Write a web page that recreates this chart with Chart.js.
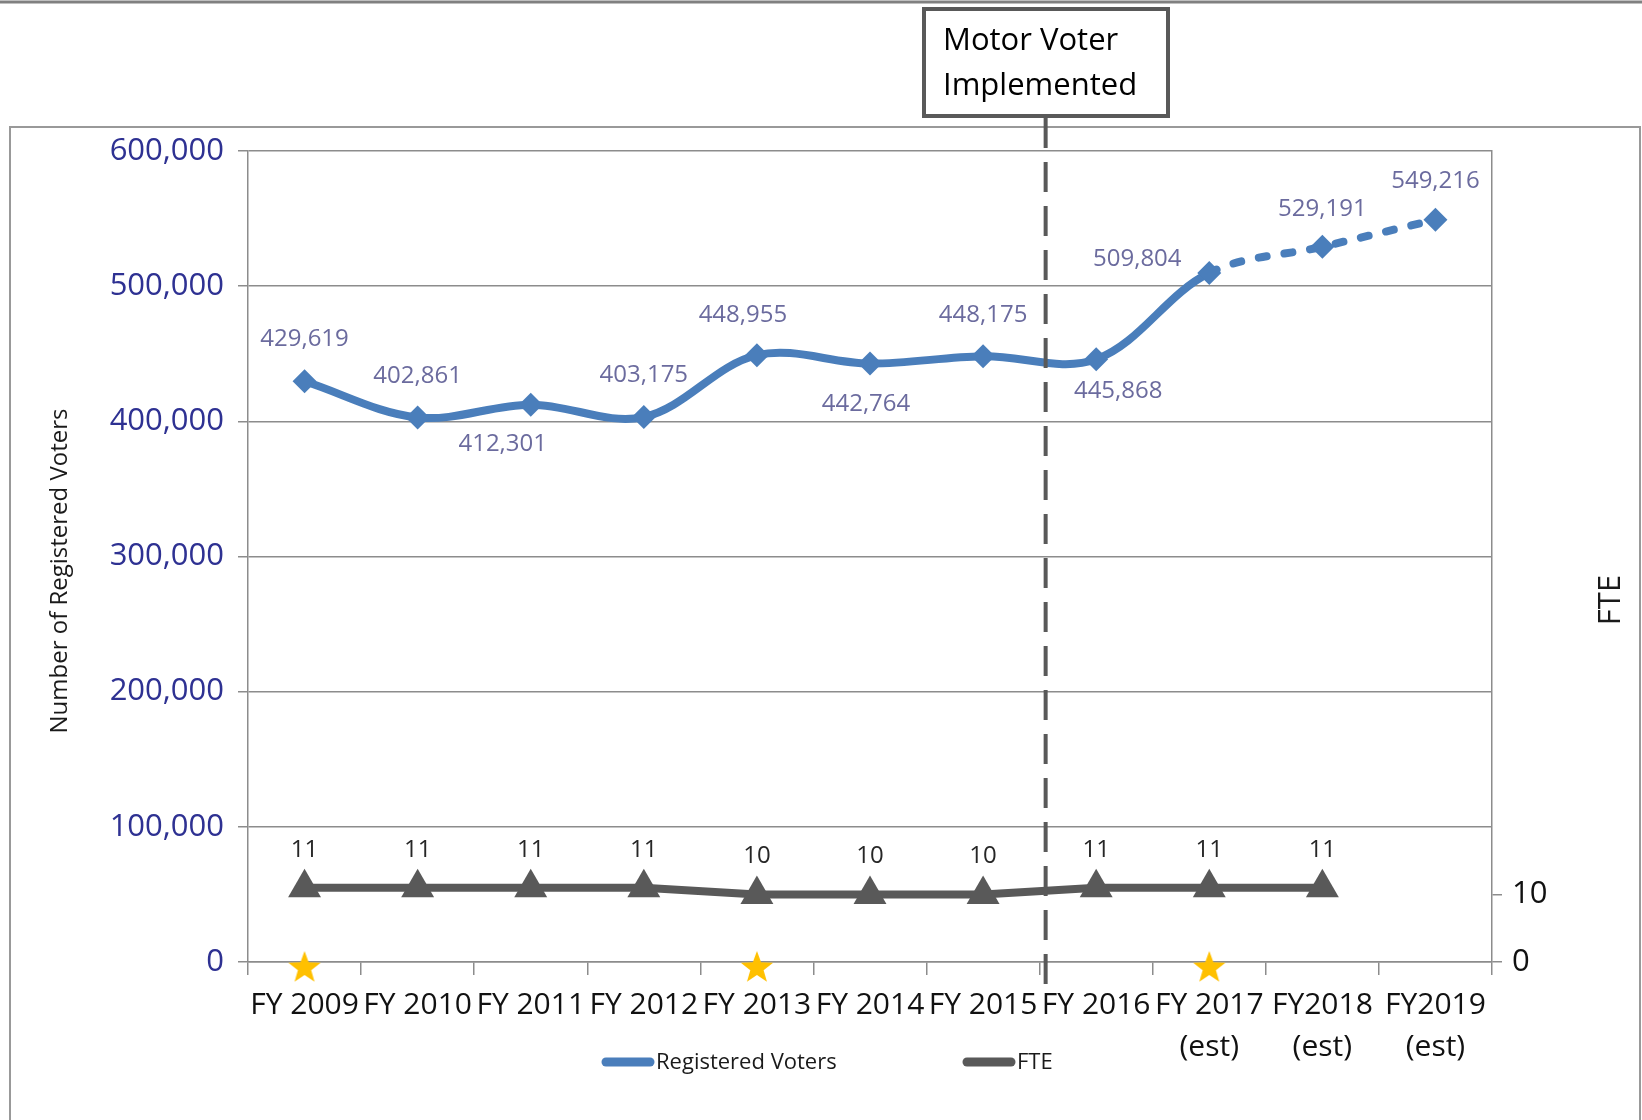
<!DOCTYPE html>
<html lang="en">

<head>
    <meta charset="UTF-8" />
    <title>Registered Voters and FTE</title>
    <script src="https://cdn.jsdelivr.net/npm/chart.js@4.4.1/dist/chart.umd.min.js"></script>
    <style>
        body { margin: 0; background: #fff; }
        canvas { display: block; }
    </style>
</head>

<body>
    <canvas id="chart" width="1642" height="1120"></canvas>
    <script>
        // chart data
        var years = [
            "FY 2009", "FY 2010", "FY 2011", "FY 2012", "FY 2013", "FY 2014",
            "FY 2015", "FY 2016", ["FY 2017", "(est)"], ["FY2018", "(est)"], ["FY2019", "(est)"]
        ];
        var registeredVoters = [429619, 402861, 412301, 403175, 448955, 442764, 448175, 445868, 509804, 529191, 549216];
        var fte = [11, 11, 11, 11, 10, 10, 10, 11, 11, 11, null];
        var electionStars = [0, null, null, null, 0, null, null, null, 0, null, null];
        var firstEstimate = 8;        // dashed from here on
        var motorVoterAfter = 6;      // marker line after FY 2015
        var leftTicks = [0, 100000, 200000, 300000, 400000, 500000, 600000];
        var rightTicks = [0, 10];

        // label offsets (px) from each point
        var voterLabelPos = [[0, -42], [0, -41], [-28, 39], [0, -42], [-14, -40], [-4, 41], [0, -41], [22, 32], [-72, -14], [0, -38], [0, -38]];

        const font = "'Open Sans', 'DejaVu Sans', sans-serif";
        const blue = "#4a7ebb";
        const grey = "#595959";

        function makeStar() {
            var c = document.createElement("canvas");
            c.width = 36;
            c.height = 48;
            var g = c.getContext("2d");
            g.fillStyle = "#ffc000";
            g.beginPath();
            for (var i = 0; i < 10; i++) {
                var r = i % 2 === 0 ? 17 : 7;
                var a = -Math.PI / 2 + i * Math.PI / 5;
                var px = 18 + r * Math.cos(a), py = 30 + r * Math.sin(a);
                if (i === 0) g.moveTo(px, py); else g.lineTo(px, py);
            }
            g.closePath();
            g.fill();
            return c;
        }

        const decor = {
            id: "decor",
            beforeDraw(chart) {
                const c = chart.ctx;
                c.save();
                c.fillStyle = "#fff";
                c.fillRect(0, 0, chart.width, chart.height);
                c.strokeStyle = "#808080";
                c.lineWidth = 3;
                c.beginPath();
                c.moveTo(0, 2);
                c.lineTo(chart.width, 2);
                c.stroke();
                c.strokeStyle = "#999";
                c.lineWidth = 2;
                c.strokeRect(10, 127, 1630, 1010);
                c.restore();
            },
            afterDatasetsDraw(chart) {
                const c = chart.ctx;
                const x = chart.scales.x;
                c.save();

                // data labels
                c.textAlign = "center";
                c.textBaseline = "middle";
                c.font = "24px " + font;
                c.fillStyle = "#6b6b9e";
                chart.getDatasetMeta(0).data.forEach(function(p, i) {
                    c.fillText(registeredVoters[i].toLocaleString("en-US"), p.x + voterLabelPos[i][0], p.y + voterLabelPos[i][1]);
                });
                c.fillStyle = "#262626";
                chart.getDatasetMeta(1).data.forEach(function(p, i) {
                    if (fte[i] == null) return;
                    c.fillText(String(fte[i]), p.x, p.y - 38);
                });

                // motor voter line
                const lx = (x.getPixelForValue(motorVoterAfter) + x.getPixelForValue(motorVoterAfter + 1)) / 2 + 6;
                c.strokeStyle = grey;
                c.lineWidth = 4;
                c.setLineDash([30, 14]);
                c.beginPath();
                c.moveTo(lx, 118);
                c.lineTo(lx, 985);
                c.stroke();
                c.setLineDash([]);

                // annotation box
                c.fillStyle = "#fff";
                c.fillRect(924, 9, 244, 107);
                c.strokeRect(924, 9, 244, 107);
                c.fillStyle = "#000";
                c.textAlign = "left";
                c.font = "31px " + font;
                c.fillText("Motor Voter", 943, 41);
                c.fillText("Implemented", 943, 86);

                // axis titles
                c.fillStyle = "#1a1a1a";
                c.textAlign = "center";
                c.font = "24px " + font;
                c.save();
                c.translate(60, 571);
                c.rotate(-Math.PI / 2);
                c.fillText("Number of Registered Voters", 0, 0);
                c.restore();
                c.font = "31px " + font;
                c.save();
                c.translate(1611, 600);
                c.rotate(-Math.PI / 2);
                c.fillText("FTE", 0, 0);
                c.restore();

                // legend
                const items = [[602, 0], [963, 1]];
                c.font = "22px " + font;
                c.textAlign = "left";
                items.forEach(function(it) {
                    const ds = chart.data.datasets[it[1]];
                    c.strokeStyle = ds.borderColor;
                    c.lineWidth = 9;
                    c.lineCap = "round";
                    c.beginPath();
                    c.moveTo(it[0] + 4, 1062);
                    c.lineTo(it[0] + 48, 1062);
                    c.stroke();
                    c.fillStyle = "#1a1a1a";
                    c.fillText(ds.label, it[0] + 54, 1063);
                });
                c.restore();
            }
        };

        function createChart() {
            new Chart("chart", {
                type: "line",
                data: {
                    labels: years,
                    datasets: [{
                        label: "Registered Voters",
                        data: registeredVoters,
                        yAxisID: "y",
                        borderColor: blue,
                        backgroundColor: blue,
                        borderWidth: 8,
                        borderCapStyle: "round",
                        tension: 0.35,
                        pointStyle: "rectRot",
                        pointRadius: 12,
                        pointBorderWidth: 0,
                        segment: {
                            borderDash: ctx => ctx.p0DataIndex >= firstEstimate ? [8, 18] : undefined
                        }
                    }, {
                        label: "FTE",
                        data: fte,
                        yAxisID: "y2",
                        borderColor: grey,
                        backgroundColor: grey,
                        borderWidth: 8,
                        tension: 0,
                        pointStyle: "triangle",
                        pointRadius: 19,
                        pointBorderWidth: 0
                    }, {
                        label: "stars",
                        data: electionStars,
                        yAxisID: "y",
                        showLine: false,
                        clip: false,
                        pointStyle: makeStar(),
                        pointRadius: 17
                    }]
                },
                options: {
                    responsive: false,
                    animation: false,
                    devicePixelRatio: 1,
                    layout: { padding: { top: 151 } },
                    plugins: {
                        legend: { display: false },
                        tooltip: { enabled: false }
                    },
                    scales: {
                        x: {
                            offset: true,
                            grid: { display: true, drawOnChartArea: false, color: "#8c8c8c", lineWidth: 1.5, tickLength: 13, offset: true },
                            border: { color: "#8c8c8c", width: 1.5 },
                            ticks: {
                                autoSkip: false, maxRotation: 0, minRotation: 0,
                                color: "#111", padding: 9,
                                font: { family: font, size: 30, lineHeight: 1.4 }
                            },
                            afterFit: s => { s.height = 158; }
                        },
                        y: {
                            position: "left",
                            min: 0,
                            max: 600000,
                            afterBuildTicks: s => { s.ticks = leftTicks.map(v => ({ value: v })); },
                            grid: { color: "#8c8c8c", lineWidth: 1.5, tickLength: 10 },
                            border: { color: "#8c8c8c", width: 1.5 },
                            ticks: {
                                color: "#2e3192", padding: 14,
                                font: { family: font, size: 31 },
                                callback: v => v.toLocaleString("en-US")
                            },
                            afterFit: s => { s.width = 248; }
                        },
                        y2: {
                            position: "right",
                            min: 0,
                            max: 120,
                            afterBuildTicks: s => { s.ticks = rightTicks.map(v => ({ value: v })); },
                            grid: { drawOnChartArea: false, color: "#8c8c8c", lineWidth: 1.5, tickLength: 10 },
                            border: { color: "#8c8c8c", width: 1.5 },
                            ticks: {
                                color: "#111", padding: 10,
                                font: { family: font, size: 31 }
                            },
                            afterFit: s => { s.width = 150; }
                        }
                    }
                },
                plugins: [decor]
            });
        }

        createChart();
    </script>
</body>

</html>
